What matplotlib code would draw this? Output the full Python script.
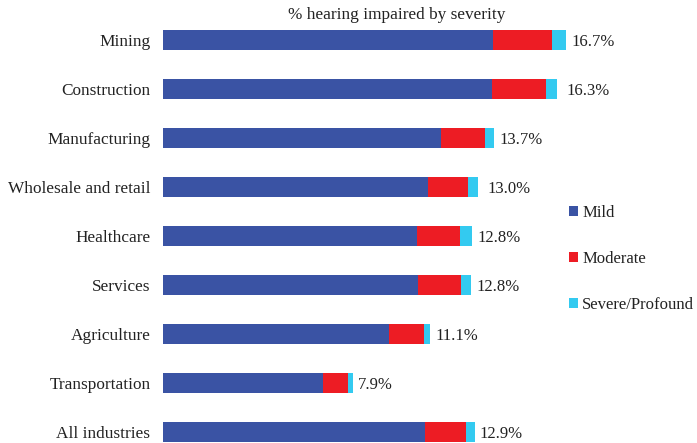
import matplotlib
matplotlib.use("Agg")
import matplotlib.pyplot as plt
import numpy as np

plt.rcParams['font.family'] = ['Liberation Serif', 'DejaVu Serif']

categories = ["Mining", "Construction", "Manufacturing", "Wholesale and retail",
              "Healthcare", "Services", "Agriculture", "Transportation", "All industries"]
mild = [13.68, 13.64, 11.52, 10.97, 10.52, 10.57, 9.37, 6.64, 10.86]
moderate = [2.44, 2.22, 1.81, 1.66, 1.79, 1.77, 1.44, 1.01, 1.69]
severe = [0.58, 0.46, 0.39, 0.40, 0.50, 0.43, 0.26, 0.22, 0.37]
total_labels = ["16.7%", "16.3%", "13.7%", "13.0%", "12.8%", "12.8%", "11.1%", "7.9%", "12.9%"]
label_offsets = [0.2, 0.4, 0.2, 0.4, 0.2, 0.2, 0.2, 0.2, 0.2]
series_names = ["Mild", "Moderate", "Severe/Profound"]
colors = ["#3A53A4", "#ED1C24", "#33CAF0"]

W, H = 697, 443
fig = plt.figure(figsize=(W / 100, H / 100), dpi=100)
left_px, top_px = 163, 15.5
px_per_unit = 24.15
xmax = 17.0
ax = fig.add_axes([left_px / W, 0, xmax * px_per_unit / W, (H - top_px) / H])

y = np.arange(len(categories))
h = 0.41
m = np.array(mild)
mo = np.array(moderate)
s = np.array(severe)
ax.barh(y, m, height=h, color=colors[0], label=series_names[0])
ax.barh(y, mo, left=m, height=h, color=colors[1], label=series_names[1])
ax.barh(y, s, left=m + mo, height=h, color=colors[2], label=series_names[2])

tot = m + mo + s
for yi, t, lab, off in zip(y, tot, total_labels, label_offsets):
    ax.text(t + off, yi + 0.05, lab, va='center', ha='left', fontsize=12, color='#222222', clip_on=False)

ax.set_xlim(0, xmax)
ax.set_ylim(8 + 11 / 49, -0.5)
ax.set_yticks(y)
ax.set_yticklabels(categories, fontsize=12.4, color='#222222')
ax.tick_params(axis='y', length=0, pad=9)
ax.set_xticks([])
for sp in ax.spines.values():
    sp.set_visible(False)

fig.text(397 / W, 1 - 15 / H, "% hearing impaired by severity", ha='center', va='center',
         fontsize=12.4, color='#222222')

leg = fig.legend(loc='center left', bbox_to_anchor=(569 / W, 1 - 259 / H), frameon=False,
                 fontsize=12, handlelength=0.55, handleheight=0.55, handletextpad=0.25,
                 labelspacing=1.78, borderaxespad=0, borderpad=0)
for t in leg.get_texts():
    t.set_color('#222222')

fig.savefig("out.png", dpi=100)
